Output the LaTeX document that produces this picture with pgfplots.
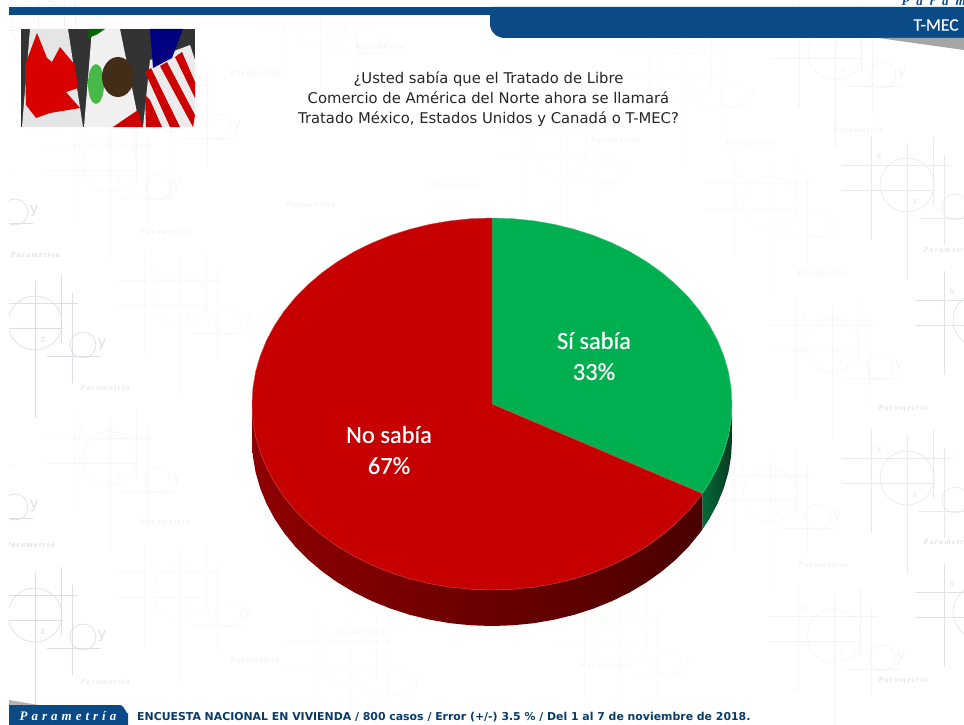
\documentclass[border=0pt]{standalone}
\usepackage{pgfplots}
\pgfplotsset{compat=1.18}
\usepackage{pgfplotstable}
\usepackage{fontspec}
\setmainfont{DejaVu Sans}
\newfontfamily\calfont[FakeBold=0.5]{Carlito}
\newfontfamily\dej{DejaVu Sans}
\newfontfamily\ser{Liberation Serif}
\definecolor{barblue}{HTML}{0A4A86}
\definecolor{pieR}{HTML}{C60000}
\definecolor{pieG}{HTML}{00B050}
\definecolor{wm}{HTML}{B9C0CC}
\definecolor{wallA}{HTML}{8E0000}
\definecolor{wallB}{HTML}{560000}
\definecolor{wallC}{HTML}{4A0000}
\definecolor{gwA}{HTML}{0A3A22}
\definecolor{gwB}{HTML}{006A38}
\pgfplotstableread{
x y
492 404
492 218
512.9 218.7
533.7 220.8
554.1 224.3
574.1 229.2
593.4 235.4
612 242.9
629.7 251.6
646.3 261.5
661.7 272.5
675.8 284.4
688.6 297.3
699.8 311
709.5 325.4
717.5 340.4
723.8 355.9
728.4 371.7
731.1 387.8
732 404
731.1 420.2
728.4 436.3
723.8 452.1
717.5 467.6
709.5 482.6
702.3 493.6
492 404
}\siSabia
\pgfplotstableread{
x y
492 404
702.3 493.6
699.8 497
688.6 510.7
675.8 523.6
661.7 535.5
646.3 546.5
629.7 556.4
612 565.1
593.4 572.6
574.1 578.8
554.1 583.7
533.7 587.2
512.9 589.3
492 590
471.1 589.3
450.3 587.2
429.9 583.7
409.9 578.8
390.6 572.6
372 565.1
354.3 556.4
337.7 546.5
322.3 535.5
308.2 523.6
295.4 510.7
284.2 497
274.5 482.6
266.5 467.6
260.2 452.1
255.6 436.3
252.9 420.2
252 404
252.9 387.8
255.6 371.7
260.2 355.9
266.5 340.4
274.5 325.4
284.2 311
295.4 297.3
308.2 284.4
322.3 272.5
337.7 261.5
354.3 251.6
372 242.9
390.6 235.4
409.9 229.2
429.9 224.3
450.3 220.8
471.1 218.7
492 218
492 404
}\noSabia
\pgfplotstableread{
x y
732 404
731.1 420.2
728.4 436.3
723.8 452.1
717.5 467.6
709.5 482.6
702.3 493.6
702.3 529.6
709.5 518.6
717.5 503.6
723.8 488.1
728.4 472.3
731.1 456.2
732 440
}\siWall
\pgfplotstableread{
x y
702.3 529.6
699.8 533
688.6 546.7
675.8 559.6
661.7 571.5
646.3 582.5
629.7 592.4
612 601.1
593.4 608.6
574.1 614.8
554.1 619.7
533.7 623.2
512.9 625.3
492 626
471.1 625.3
450.3 623.2
429.9 619.7
409.9 614.8
390.6 608.6
372 601.1
354.3 592.4
337.7 582.5
322.3 571.5
308.2 559.6
295.4 546.7
284.2 533
274.5 518.6
266.5 503.6
260.2 488.1
255.6 472.3
252.9 456.2
252 440
252 404
492 404
702.3 493.6
}\noWall
% watermark motif: #1,#2 = circle centre, #3 = strength
\newcommand\motif[3]{%
 \begin{scope}[draw=wm!#3!white,line width=.7pt]
 \draw (axis cs:#1,#2) ellipse [x radius=27,y radius=27];
 \draw (axis cs:{#1+48},{#2+22}) ellipse [x radius=13,y radius=13];
 \draw (axis cs:#1,{#2-42}) -- (axis cs:#1,{#2+95});
 \draw (axis cs:{#1-36},{#2-49}) -- (axis cs:{#1-36},{#2+55});
 \draw (axis cs:{#1+26},{#2-48}) -- (axis cs:{#1+26},{#2+20});
 \draw (axis cs:{#1+37},{#2-30}) -- (axis cs:{#1+37},{#2+60});
 \draw (axis cs:{#1-65},{#2-20}) -- (axis cs:{#1+43},{#2-20});
 \draw (axis cs:{#1-65},{#2+5}) -- (axis cs:{#1+28},{#2+5});
 \draw (axis cs:{#1+12},{#2+33}) -- (axis cs:{#1+66},{#2+33});
 \end{scope}
 \node[text=wm!#3!white,font=\ser\fontsize{11}{11}\selectfont] at (axis cs:{#1-28},{#2-28}) {x};
 \node[text=wm!#3!white,font=\ser\fontsize{11}{11}\selectfont] at (axis cs:{#1+8},{#2+17}) {z};
 \node[text=wm!#3!white,font=\dej\fontsize{15}{15}\selectfont] at (axis cs:{#1+67},{#2+21}) {y};
}
\newcommand\wmtext[3]{\node[text=wm!#3!white,font=\ser\itshape\bfseries\fontsize{8}{8}\selectfont] at (axis cs:#1,#2) {P\,a\,r\,a\,m\,e\,t\,r\,í\,a};}
\begin{document}
\begin{tikzpicture}
\begin{axis}[at={(0,0)},anchor=south west,scale only axis,width=964pt,height=725pt,
 xmin=0,xmax=964,ymin=0,ymax=725,y dir=reverse,hide axis,clip=true]
% watermark
\motif{907}{185}{35}\motif{907}{478}{35}\motif{980}{320}{45}\motif{980}{612}{45}
\motif{35}{323}{50}\motif{35}{615}{50}
\motif{835}{53}{18}\motif{832}{345}{12}\motif{834}{636}{18}
\motif{-33}{190}{50}\motif{-33}{485}{50}
\motif{38}{25}{20}\motif{170}{105}{12}\motif{110}{165}{12}\motif{180}{300}{10}
\motif{110}{458}{12}\motif{180}{592}{10}\motif{685}{73}{8}\motif{770}{203}{8}
\motif{770}{495}{12}\motif{350}{660}{8}\motif{620}{640}{8}
\motif{320}{20}{8}\motif{560}{150}{7}
\wmtext{380}{47}{20}\wmtext{255}{73}{20}\wmtext{615}{140}{15}\wmtext{750}{143}{15}
\wmtext{310}{205}{20}\wmtext{165}{232}{20}\wmtext{35}{255}{50}\wmtext{105}{388}{35}
\wmtext{822}{273}{20}\wmtext{903}{408}{40}\wmtext{948}{250}{40}\wmtext{455}{185}{15}
\wmtext{165}{522}{20}\wmtext{30}{545}{50}\wmtext{255}{660}{20}\wmtext{105}{682}{30}
\wmtext{823}{565}{20}\wmtext{903}{680}{40}\wmtext{948}{542}{45}\wmtext{360}{632}{15}
\wmtext{605}{665}{15}\wmtext{858}{130}{20}
% pie side walls
\addplot[draw=none,left color=gwB,right color=gwA] table[x=x,y=y]{\siWall};
\addplot[draw=none,left color=wallA,middle color=wallB,right color=wallC] table[x=x,y=y]{\noWall};
% pie faces
\addplot[fill=pieG,draw=pieG!75!white,line width=.4pt] table[x=x,y=y]{\siSabia};
\addplot[fill=pieR,draw=pieR!70!white,line width=.4pt] table[x=x,y=y]{\noSabia};
% slice labels
\node[align=center,text=white,font=\calfont\fontsize{24.5}{31}\selectfont] at (axis cs:594,356) {Sí sabía\\33\%};
\node[align=center,text=white,font=\calfont\fontsize{24.5}{31}\selectfont] at (axis cs:389,450) {No sabía\\67\%};
% question
\node[align=center,text=black!85,font=\fontsize{14.8}{20}\selectfont] at (axis cs:488.5,99)
 {¿Usted sabía que el Tratado  de Libre\\Comercio de América  del Norte ahora se llamará\\Tratado  México, Estados Unidos y Canadá  o T-MEC?};
% header
\node[text=barblue,font=\ser\itshape\bfseries\fontsize{13}{13}\selectfont,anchor=west] at (axis cs:898,1) {P\hspace{7pt}a\hspace{7pt}r\hspace{7pt}a\hspace{7pt}m\hspace{7pt}e};
\fill[barblue] (axis cs:9,7) rectangle (axis cs:964,15);
\fill[barblue] (axis cs:490,7) -- (axis cs:964,7) -- (axis cs:964,38) -- (axis cs:505,38) to[out=180,in=-90] (axis cs:490,24) -- cycle;
\fill[gray!70] (axis cs:878,38) -- (axis cs:964,38) -- (axis cs:964,50) -- cycle;
\node[text=white,font=\calfont\fontsize{17.5}{18}\selectfont] at (axis cs:936,25) {T-MEC};
% flags
\fill[black!80] (axis cs:21,29) rectangle (axis cs:195,127);
\fill[black!10] (axis cs:30,29) -- (axis cs:68,29) -- (axis cs:83,127) -- (axis cs:22,127) -- cycle;
\fill[red!85!black] (axis cs:37,33) -- (axis cs:47,58) -- (axis cs:52,62) -- (axis cs:60,47) -- (axis cs:75,65) -- (axis cs:78,88) -- (axis cs:66,92) -- (axis cs:80,108) -- (axis cs:50,113) -- (axis cs:36,118) -- (axis cs:26,105) -- (axis cs:25,65) -- cycle;
\fill[black!6] (axis cs:92,29) -- (axis cs:120,29) -- (axis cs:140,127) -- (axis cs:84,127) -- cycle;
\fill[green!40!black] (axis cs:89,29) -- (axis cs:105,29) -- (axis cs:96,35) -- (axis cs:88,38) -- cycle;
\fill[red!80!black] (axis cs:113,127) -- (axis cs:138,110) -- (axis cs:143,127) -- cycle;
\fill[green!45!gray] (axis cs:96,84) ellipse [x radius=8,y radius=20];
\fill[black!65!brown] (axis cs:118,77) ellipse [x radius=16,y radius=20];
\fill[black!8] (axis cs:150,60) -- (axis cs:190,45) -- (axis cs:195,60) -- (axis cs:195,127) -- (axis cs:143,127) -- cycle;
\fill[blue!50!black] (axis cs:150,29) -- (axis cs:183,29) -- (axis cs:172,58) -- (axis cs:153,68) -- cycle;
\fill[red!80!black] (axis cs:145,72) -- (axis cs:151,68) -- (axis cs:180,127) -- (axis cs:170,127) -- cycle;
\fill[red!80!black] (axis cs:160,66) -- (axis cs:167,62) -- (axis cs:195,115) -- (axis cs:193,127) -- cycle;
\fill[red!80!black] (axis cs:175,57) -- (axis cs:182,52) -- (axis cs:195,82) -- (axis cs:195,98) -- cycle;
\fill[red!80!black] (axis cs:145,95) -- (axis cs:150,100) -- (axis cs:162,127) -- (axis cs:146,127) -- cycle;
% footer
\fill[gray!60] (axis cs:9,706) -- (axis cs:9,700) -- (axis cs:45,706) -- cycle;
\fill[barblue] (axis cs:9,705) -- (axis cs:120,705) to[out=0,in=-90] (axis cs:128,713) -- (axis cs:128,725) -- (axis cs:9,725) -- cycle;
\node[text=white,font=\ser\itshape\bfseries\fontsize{13}{13}\selectfont] at (axis cs:68,716) {P\hspace{4pt}a\hspace{4pt}r\hspace{4pt}a\hspace{4pt}m\hspace{4pt}e\hspace{4pt}t\hspace{4pt}r\hspace{4pt}í\hspace{4pt}a};
\node[anchor=west,inner sep=0pt,text=barblue!80!black,font=\dej\bfseries\fontsize{10.9}{11}\selectfont] at (axis cs:137,717)
 {ENCUESTA  NACIONAL EN VIVIENDA  / 800 casos / Error (+/-)  3.5 \% / Del 1 al 7 de noviembre de 2018.};
\fill[white] (axis cs:0,0) rectangle (axis cs:9,725);
\end{axis}
\pgfresetboundingbox
\path (0,0) rectangle (964pt,725pt);
\end{tikzpicture}
\end{document}
